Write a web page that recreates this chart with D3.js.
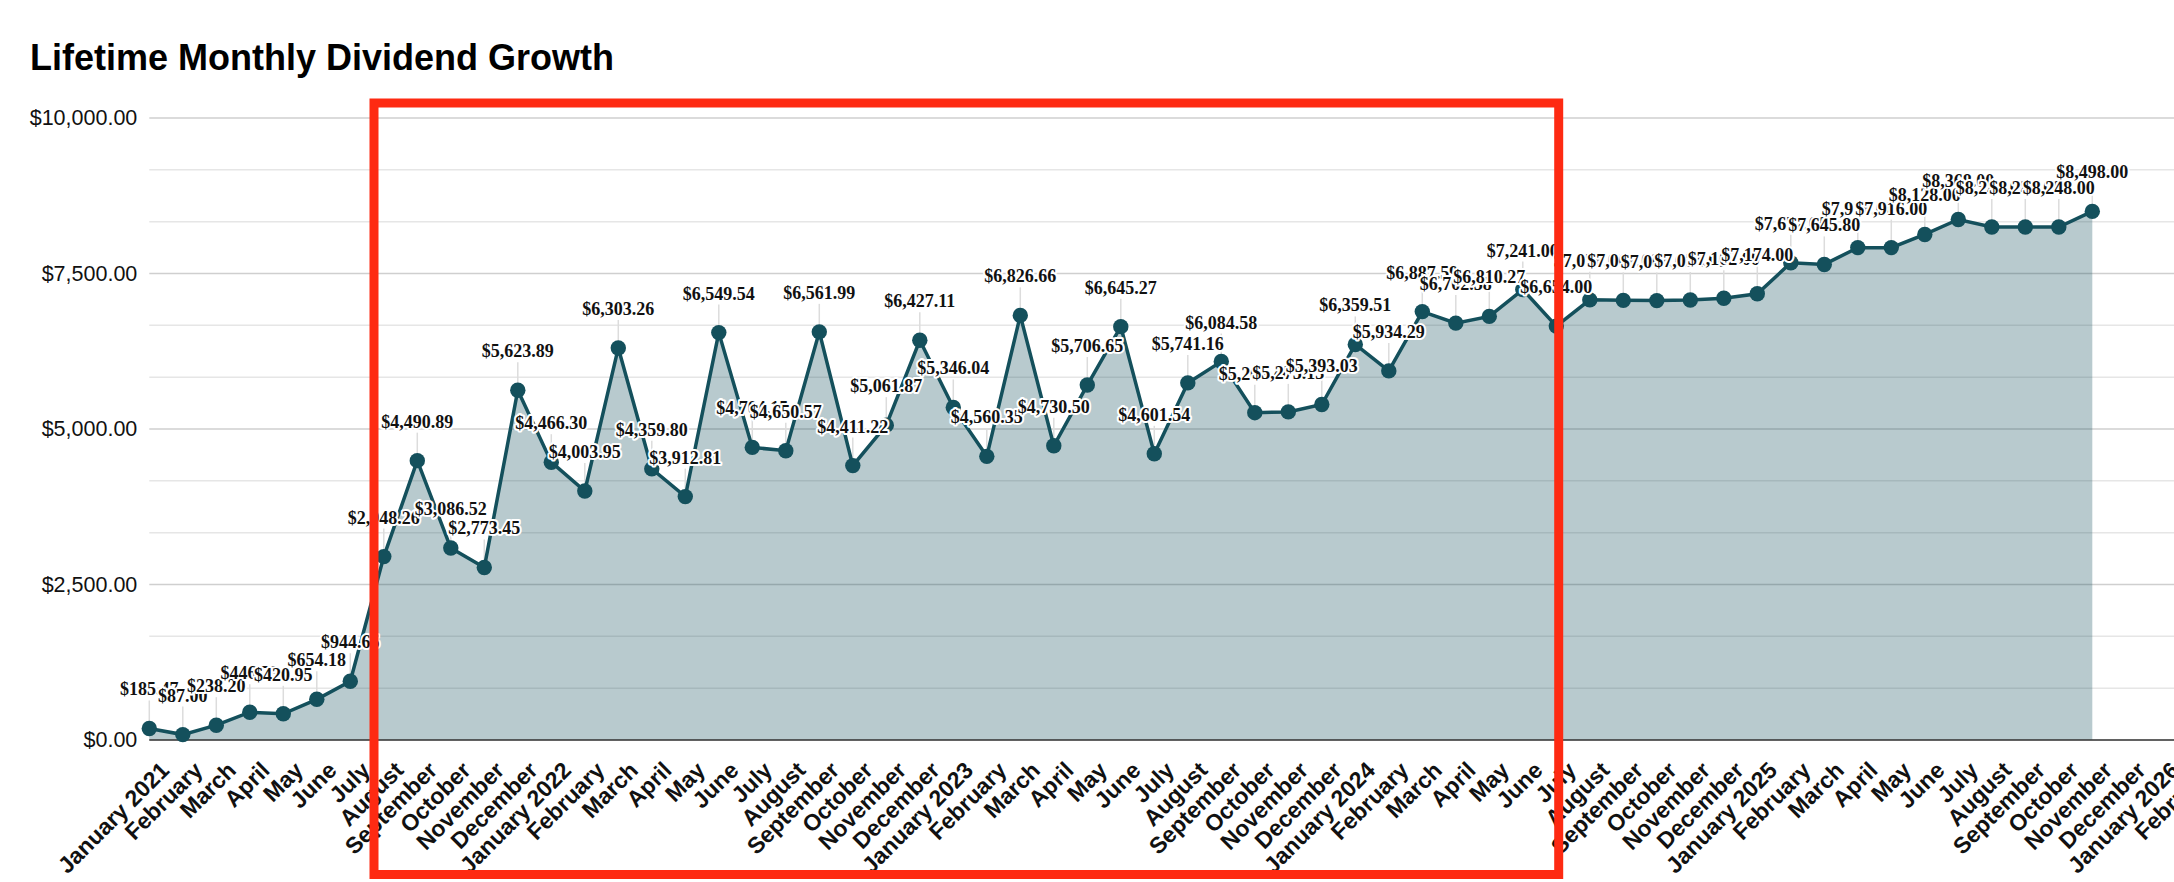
<!DOCTYPE html>
<html>
<head>
<meta charset="utf-8">
<script src="https://cdn.jsdelivr.net/npm/d3@7"></script>
<style>
  html, body { margin: 0; padding: 0; background: #fff; overflow: hidden; }
  #chart { width: 2174px; height: 882px; }
</style>
</head>
<body>
<div id="chart"></div>
<script>
const monthLabels = [
  "January 2021", "February", "March", "April", "May", "June", "July", "August", "September", "October", "November", "December",
  "January 2022", "February", "March", "April", "May", "June", "July", "August", "September", "October", "November", "December",
  "January 2023", "February", "March", "April", "May", "June", "July", "August", "September", "October", "November", "December",
  "January 2024", "February", "March", "April", "May", "June", "July", "August", "September", "October", "November", "December",
  "January 2025", "February", "March", "April", "May", "June", "July", "August", "September", "October", "November", "December",
  "January 2026", "February"
];

// monthly dividend totals, Jan 2021 .. Nov 2025
const dividends = [
  185.47, 87.00, 238.20, 446.73, 420.95, 654.18, 944.65, 2948.26, 4490.89, 3086.52, 2773.45, 5623.89,
  4466.30, 4003.95, 6303.26, 4359.80, 3912.81, 6549.54, 4704.15, 4650.57, 6561.99, 4411.22, 5061.87, 6427.11,
  5346.04, 4560.35, 6826.66, 4730.50, 5706.65, 6645.27, 4601.54, 5741.16, 6084.58, 5262.40, 5275.13, 5393.03,
  6359.51, 5934.29, 6887.59, 6702.58, 6810.27, 7241.00, 6654.00, 7076.00, 7068.00, 7064.00, 7074.00, 7102.00,
  7174.00, 7672.00, 7645.80, 7916.00, 7916.00, 8128.00, 8368.00, 8248.00, 8248.00, 8248.00, 8498.00
];

const yLabelTicks = [0, 2500, 5000, 7500, 10000];
const yGridTicks = d3.range(13).map(i => i * 2500 / 3);

const margin = { top: 118, left: 149.3, bottom: 142 };
const width = 2174;
const height = 882;
const plotWidth = 2043.5;
const plotHeight = height - margin.top - margin.bottom;

const lineColor = "#14505c";
const fmt = d3.format("$,.2f");

const svg = d3.select("#chart")
  .append("svg")
  .attr("width", width)
  .attr("height", height);

svg.append("text")
  .attr("x", 30)
  .attr("y", 69.5)
  .style("font-family", "'Liberation Sans', Arial, sans-serif")
  .style("font-weight", "bold")
  .style("font-size", "36px")
  .text("Lifetime Monthly Dividend Growth");

const g = svg.append("g")
  .attr("transform", `translate(${margin.left},${margin.top})`);

const x = d3.scalePoint()
  .domain(d3.range(monthLabels.length))
  .range([0, plotWidth]);

const y = d3.scaleLinear()
  .domain([0, 10000])
  .range([plotHeight, 0]);

// gridlines
g.append("g")
  .selectAll("line")
  .data(yGridTicks)
  .join("line")
  .attr("x1", 0)
  .attr("x2", width)
  .attr("y1", d => y(d))
  .attr("y2", d => y(d))
  .attr("stroke", (d, i) => i % 3 === 0 ? "#cfcfcf" : "#e6e6e6")
  .attr("stroke-width", 1.5);

// y axis
const yAxis = g.append("g")
  .call(d3.axisLeft(y).tickValues(yLabelTicks).tickSize(0).tickPadding(12).tickFormat(fmt));
yAxis.select(".domain").remove();
yAxis.selectAll("text")
  .style("font-family", "'Liberation Sans', Arial, sans-serif")
  .style("font-size", "21.5px")
  .attr("fill", "#111");

// area + line
const area = d3.area()
  .x((d, i) => x(i))
  .y0(y(0))
  .y1(d => y(d));

const line = d3.line()
  .x((d, i) => x(i))
  .y(d => y(d));

g.append("path")
  .datum(dividends)
  .attr("d", area)
  .attr("fill", lineColor)
  .attr("fill-opacity", 0.3);

// x axis
const xAxis = g.append("g")
  .attr("transform", `translate(0,${plotHeight})`)
  .call(d3.axisBottom(x).tickSize(0).tickSizeOuter(0).tickFormat(i => monthLabels[i]));
xAxis.select(".domain")
  .attr("stroke", "#3a3a3a")
  .attr("stroke-width", 1.5)
  .attr("d", `M0,0H${width}`);
xAxis.selectAll("text")
  .attr("x", 0)
  .attr("y", 0)
  .attr("dy", "0.35em")
  .attr("text-anchor", "end")
  .attr("transform", "translate(15,26) rotate(-45)")
  .attr("fill", "#111")
  .style("font-family", "'Liberation Sans', Arial, sans-serif")
  .style("font-weight", "bold")
  .style("font-size", "23px");

// leader lines from label to point
g.append("g")
  .selectAll("line")
  .data(dividends)
  .join("line")
  .attr("x1", (d, i) => x(i))
  .attr("x2", (d, i) => x(i))
  .attr("y1", d => y(d) - 28)
  .attr("y2", d => y(d) - 6)
  .attr("stroke", "#dcdcdc")
  .attr("stroke-width", 1.5);

g.append("path")
  .datum(dividends)
  .attr("d", line)
  .attr("fill", "none")
  .attr("stroke", lineColor)
  .attr("stroke-width", 3.5);

g.append("g")
  .selectAll("circle")
  .data(dividends)
  .join("circle")
  .attr("cx", (d, i) => x(i))
  .attr("cy", d => y(d))
  .attr("r", 7.7)
  .attr("fill", lineColor);

// value labels
g.append("g")
  .selectAll("text")
  .data(dividends)
  .join("text")
  .attr("x", (d, i) => x(i))
  .attr("y", d => y(d) - 33)
  .attr("text-anchor", "middle")
  .style("font-family", "'Liberation Serif', 'Times New Roman', serif")
  .style("font-weight", "bold")
  .style("font-size", "18px")
  .attr("fill", "#111")
  .attr("stroke", "#fff")
  .attr("stroke-width", 4)
  .attr("stroke-linejoin", "round")
  .attr("paint-order", "stroke")
  .text(d => fmt(d));

// highlight box
svg.append("rect")
  .attr("x", 374)
  .attr("y", 103)
  .attr("width", 1184.7)
  .attr("height", 771.5)
  .attr("fill", "none")
  .attr("stroke", "#fe2a12")
  .attr("stroke-width", 9);
</script>
</body>
</html>
